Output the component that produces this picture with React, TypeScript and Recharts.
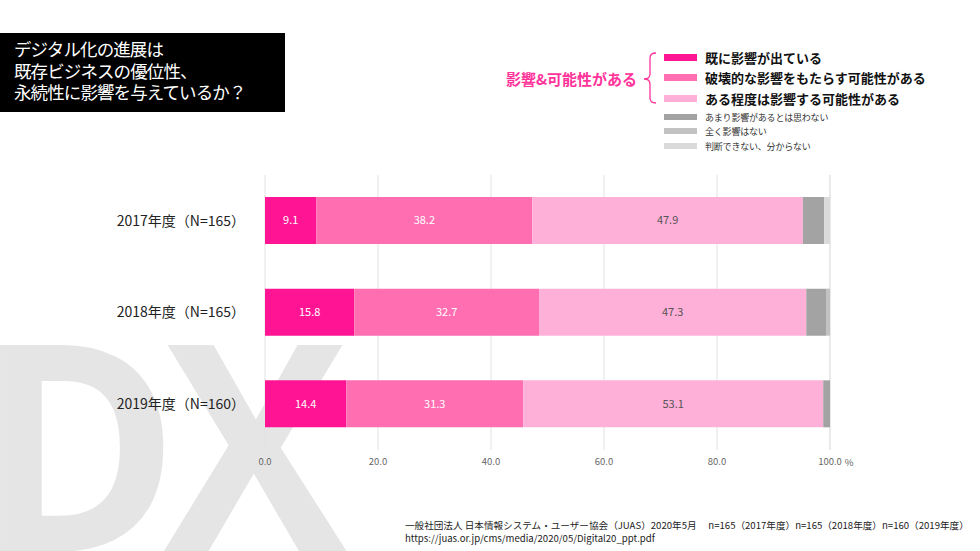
import React from 'react';
import {
  BarChart,
  Bar,
  XAxis,
  YAxis,
  CartesianGrid,
  LabelList,
} from 'recharts';

const years = ['2017年度（N=165）', '2018年度（N=165）', '2019年度（N=160）'];
const already = [9.1, 15.8, 14.4];
const destructive = [38.2, 32.7, 31.3];
const someDegree = [47.9, 47.3, 53.1];
const notMuch = [3.8, 3.6, 1.2];
const noneAtAll = [0, 0.6, 0];
const unknown = [1.0, 0, 0];
const xTicks = [0, 20, 40, 60, 80, 100];

const SERIES = [
  { key: 'already', name: '既に影響が出ている', color: '#ff1493', label: '#ffffff', big: true },
  { key: 'destructive', name: '破壊的な影響をもたらす可能性がある', color: '#ff6eb1', label: '#ffffff', big: true },
  { key: 'someDegree', name: 'ある程度は影響する可能性がある', color: '#ffb0d8', label: '#555555', big: true },
  { key: 'notMuch', name: 'あまり影響があるとは思わない', color: '#a3a3a3', label: null, big: false },
  { key: 'noneAtAll', name: '全く影響はない', color: '#c2c2c2', label: null, big: false },
  { key: 'unknown', name: '判断できない、分からない', color: '#dadada', label: null, big: false },
];

const data = years.map((year, i) => ({
  year,
  already: already[i],
  destructive: destructive[i],
  someDegree: someDegree[i],
  notMuch: notMuch[i],
  noneAtAll: noneAtAll[i],
  unknown: unknown[i],
}));

const JP = '"Noto Sans CJK JP", "Noto Sans", sans-serif';

function XTick({ x, y, payload }: any) {
  return (
    <g>
      <text x={x} y={y} dy="0.71em" textAnchor="middle" fontSize={9.5} fill="#666" fontFamily={JP}>
        {Number(payload.value).toFixed(1)}
      </text>
      {payload.value === 100 && (
        <text x={x + 19} y={y + 1} dy="0.71em" textAnchor="middle" fontSize={9.5} fill="#666" fontFamily={JP}>
          %
        </text>
      )}
    </g>
  );
}

function YTick({ x, y, payload }: any) {
  return (
    <text x={x} y={y} dy="0.35em" textAnchor="end" fontSize={14} fill="#222" fontFamily={JP}>
      {payload.value}
    </text>
  );
}

export default function App() {
  return (
    <div style={{ position: 'absolute', left: 0, top: 0, width: 980, height: 551, background: '#fff', overflow: 'hidden', fontFamily: JP }}>
      {/* DX watermark */}
      <svg width={980} height={551} style={{ position: 'absolute', left: 0, top: 0 }}>
        <g transform="scale(0.95,1)" fontSize={290} fontWeight={700} fill="#e5e5e5" fontFamily='"Open Sans", sans-serif'>
          <text x={-26} y={552}>D</text>
          <text x={172} y={552}>X</text>
        </g>
      </svg>

      {/* title box */}
      <div style={{ position: 'absolute', left: 0, top: 33, width: 285, height: 79, background: '#000', color: '#fff', fontSize: 17.5, letterSpacing: -0.9, lineHeight: '21.5px', padding: '5px 0 0 14px', boxSizing: 'border-box' }}>
        デジタル化の進展は<br />既存ビジネスの優位性、<br />永続性に影響を与えているか？
      </div>

      {/* legend */}
      <div style={{ position: 'absolute', left: 506, top: 68, fontSize: 15, fontWeight: 700, color: '#ff3399', whiteSpace: 'nowrap' }}>
        影響&amp;可能性がある
      </div>
      <svg width={20} height={52} style={{ position: 'absolute', left: 641, top: 52 }}>
        <path d="M15 1 Q9 1 9 6 L9 22 Q9 27 3 27 Q9 27 9 32 L9 46 Q9 51 15 51" fill="none" stroke="#ff3399" strokeWidth={1.3} />
      </svg>
      {SERIES.map((s, i) => {
        const cy = s.big ? [57, 77, 98][i] : [117, 131, 146][i - 3];
        return (
          <div key={s.key} style={{ position: 'absolute', left: 664, top: cy - 10, height: 20, display: 'flex', alignItems: 'center', whiteSpace: 'nowrap' }}>
            <div style={{ width: 33, height: s.big ? 7 : 6, background: s.color }} />
            <span style={{ marginLeft: 8, fontSize: s.big ? 13 : 9, letterSpacing: s.big ? 0 : -0.2, fontWeight: s.big ? 700 : 400, color: s.big ? '#111' : '#333' }}>
              {s.name}
            </span>
          </div>
        );
      })}

      {/* chart */}
      <div style={{ position: 'absolute', left: 0, top: 0 }}>
        <BarChart
          width={980}
          height={551}
          data={data}
          layout="vertical"
          margin={{ top: 175, right: 150, bottom: 71, left: 10 }}
          barSize={47}
        >
          <CartesianGrid horizontal={false} vertical stroke="#e2e2e2" />
          <XAxis
            type="number"
            domain={[0, 100]}
            ticks={xTicks}
            axisLine={false}
            tickLine={false}
            height={30}
            tick={<XTick />}
          />
          <YAxis
            type="category"
            dataKey="year"
            width={255}
            axisLine={false}
            tickLine={false}
            tickMargin={14}
            tick={<YTick />}
          />
          {SERIES.map((s) => (
            <Bar key={s.key} dataKey={s.key} stackId="a" fill={s.color} isAnimationActive={false}>
              {s.label && (
                <LabelList
                  dataKey={s.key}
                  position="center"
                  fill={s.label}
                  fontSize={11}
                  fontFamily={JP}
                  formatter={(v: any) => Number(v).toFixed(1)}
                />
              )}
            </Bar>
          ))}
        </BarChart>
      </div>

      {/* source */}
      <div style={{ position: 'absolute', left: 405, top: 519, fontSize: 9.6, lineHeight: '13px', color: '#222', whiteSpace: 'nowrap' }}>
        一般社団法人 日本情報システム・ユーザー協会（JUAS）2020年5月　 n=165（2017年度）n=165（2018年度）n=160（2019年度）<br />
        https://juas.or.jp/cms/media/2020/05/Digital20_ppt.pdf
      </div>
    </div>
  );
}
